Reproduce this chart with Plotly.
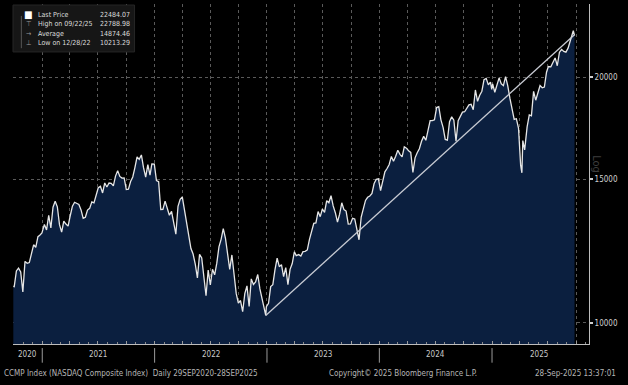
import plotly.graph_objects as go

# ---------------- data (weekly closes) ----------------
dates = [
 "2020-09-29","2020-10-02","2020-10-09","2020-10-16","2020-10-23","2020-10-30","2020-11-06","2020-11-13","2020-11-20","2020-11-27",
 "2020-12-04","2020-12-11","2020-12-18","2020-12-24","2020-12-31",
 "2021-01-08","2021-01-15","2021-01-22","2021-01-29","2021-02-05","2021-02-12","2021-02-19","2021-02-26","2021-03-05","2021-03-12",
 "2021-03-19","2021-03-26","2021-04-01","2021-04-09","2021-04-16","2021-04-23","2021-04-30","2021-05-07","2021-05-14","2021-05-21",
 "2021-05-28","2021-06-04","2021-06-11","2021-06-18","2021-06-25","2021-07-02","2021-07-09","2021-07-16","2021-07-23","2021-07-30",
 "2021-08-06","2021-08-13","2021-08-20","2021-08-27","2021-09-03","2021-09-10","2021-09-17","2021-09-24","2021-10-01","2021-10-08",
 "2021-10-15","2021-10-22","2021-10-29","2021-11-05","2021-11-12","2021-11-19","2021-11-26","2021-12-03","2021-12-10","2021-12-17",
 "2021-12-23","2021-12-31",
 "2022-01-07","2022-01-14","2022-01-21","2022-01-28","2022-02-04","2022-02-11","2022-02-18","2022-02-25","2022-03-04","2022-03-11",
 "2022-03-18","2022-03-25","2022-04-01","2022-04-08","2022-04-14","2022-04-22","2022-04-29","2022-05-06","2022-05-13","2022-05-20",
 "2022-05-27","2022-06-03","2022-06-10","2022-06-17","2022-06-24","2022-07-01","2022-07-08","2022-07-15","2022-07-22","2022-07-29",
 "2022-08-05","2022-08-12","2022-08-19","2022-08-26","2022-09-02","2022-09-09","2022-09-16","2022-09-23","2022-09-30","2022-10-07",
 "2022-10-14","2022-10-21","2022-10-28","2022-11-04","2022-11-11","2022-11-18","2022-11-25","2022-12-02","2022-12-09","2022-12-16",
 "2022-12-23","2022-12-28","2022-12-30",
 "2023-01-06","2023-01-13","2023-01-20","2023-01-27","2023-02-03","2023-02-10","2023-02-17","2023-02-24","2023-03-03","2023-03-10",
 "2023-03-17","2023-03-24","2023-03-31","2023-04-06","2023-04-14","2023-04-21","2023-04-28","2023-05-05","2023-05-12","2023-05-19",
 "2023-05-26","2023-06-02","2023-06-09","2023-06-16","2023-06-23","2023-06-30","2023-07-07","2023-07-14","2023-07-21","2023-07-28",
 "2023-08-04","2023-08-11","2023-08-18","2023-08-25","2023-09-01","2023-09-08","2023-09-15","2023-09-22","2023-09-29","2023-10-06",
 "2023-10-13","2023-10-20","2023-10-27","2023-11-03","2023-11-10","2023-11-17","2023-11-24","2023-12-01","2023-12-08","2023-12-15",
 "2023-12-22","2023-12-29",
 "2024-01-05","2024-01-12","2024-01-19","2024-01-26","2024-02-02","2024-02-09","2024-02-16","2024-02-23","2024-03-01","2024-03-08",
 "2024-03-15","2024-03-22","2024-03-28","2024-04-05","2024-04-12","2024-04-19","2024-04-26","2024-05-03","2024-05-10","2024-05-17",
 "2024-05-24","2024-05-31","2024-06-07","2024-06-14","2024-06-21","2024-06-28","2024-07-05","2024-07-12","2024-07-19","2024-07-26",
 "2024-08-02","2024-08-09","2024-08-16","2024-08-23","2024-08-30","2024-09-06","2024-09-13","2024-09-20","2024-09-27","2024-10-04",
 "2024-10-11","2024-10-18","2024-10-25","2024-11-01","2024-11-08","2024-11-15","2024-11-22","2024-11-29","2024-12-06","2024-12-13",
 "2024-12-20","2024-12-27","2024-12-31",
 "2025-01-03","2025-01-10","2025-01-17","2025-01-24","2025-01-31","2025-02-07","2025-02-14","2025-02-21","2025-02-28","2025-03-07",
 "2025-03-14","2025-03-21","2025-03-28","2025-04-04","2025-04-08","2025-04-11","2025-04-17","2025-04-25","2025-05-02","2025-05-09",
 "2025-05-16","2025-05-23","2025-05-30","2025-06-06","2025-06-13","2025-06-20","2025-06-27","2025-07-03","2025-07-11","2025-07-18",
 "2025-07-25","2025-08-01","2025-08-08","2025-08-15","2025-08-22","2025-08-29","2025-09-05","2025-09-12","2025-09-19","2025-09-22",
 "2025-09-26",
]
prices = [
 11085,11075,11580,11672,11548,10911,11895,11830,11855,12206,
 12464,12378,12755,12805,12888,
 13202,12998,13543,13070,13856,14095,13874,13192,12920,13320,
 13215,13138,13480,13900,14052,14016,13962,13752,13430,13471,
 13748,13814,14069,14030,14360,14639,14701,14427,14837,14672,
 14835,14822,14714,15129,15363,15115,15043,15047,14567,14580,
 14897,15090,15498,15971,15861,16057,15491,15085,15630,15169,
 15653,15645,
 14936,14893,13768,13770,14098,13791,13548,13694,13313,12843,
 13894,14169,14261,13711,13351,12839,12335,12145,11805,11354,
 12131,12013,11340,10798,11608,11128,11635,11452,11834,12391,
 12657,13047,12705,12142,11630,12112,11448,10868,10576,10652,
 10321,10860,11102,10475,11323,11146,11226,11462,11005,10705,
 10497,10213.29,10466,
 10569,11079,11140,11622,12007,11718,11787,11395,11689,11138,
 11631,11824,12222,12088,12124,12073,12227,12235,12285,12658,
 12976,13241,13259,13690,13492,13788,13661,14113,14032,14317,
 13909,13645,13290,13590,14031,13762,13708,13212,13219,13431,
 13407,12984,12643,13478,13798,14125,14250,14305,14404,14814,
 14992,15011,
 14524,14973,15311,15455,15629,15991,15776,15997,16275,16085,
 15973,16429,16379,16249,16175,15282,15928,16156,16341,16686,
 16921,16735,17133,17689,17689,17733,18353,18398,17727,17358,
 16776,16745,17632,17878,17714,16691,17684,17948,18119,18138,
 18343,18490,18519,18240,19287,18680,19004,19218,19860,19927,
 19573,19722,19311,
 19622,19162,19630,19955,19627,19523,20027,19524,18847,18196,
 17754,17784,17323,15588,15268,16724,16286,17383,17978,17929,
 19212,18737,19114,19530,19407,19447,20273,20601,20586,20896,
 21108,20650,21450,21623,21496,21456,21700,22141,22631,22788.98,
 22484.07,
]

trend_dates = ["2022-12-28", "2025-09-24"]
trend_values = [10213.29, 22500]

y_ticks = [10000, 15000, 20000]
y_tick_labels = ["10000", "15000", "20000"]

year_labels = ["2020", "2021", "2022", "2023", "2024", "2025"]
year_label_dates = ["2020-11-13", "2021-07-02", "2022-07-02", "2023-07-02", "2024-07-02", "2025-06-01"]
year_breaks = ["2021-01-01", "2022-01-01", "2023-01-01", "2024-01-01", "2025-01-01"]

legend_names = ["Last Price", "High on 09/22/25", "Average", "Low on 12/28/22"]
legend_values = ["22484.07", "22788.98", "14874.46", "10213.29"]
legend_symbols = ["■", "⊤", "→", "⊥"]

FONT = "DejaVu Sans Condensed, DejaVu Sans, Liberation Sans"

fig = go.Figure()
fig.add_trace(go.Scatter(
    x=dates, y=prices, mode="lines",
    line=dict(color="#e6e6e6", width=1.3),
    fill="tozeroy", fillcolor="#0b1f3f",
    hoverinfo="skip", showlegend=False,
))
fig.add_trace(go.Scatter(
    x=trend_dates, y=trend_values, mode="lines",
    line=dict(color="#c9ccd4", width=1.3),
    hoverinfo="skip", showlegend=False,
))

fig.update_layout(
    width=628, height=385,
    margin=dict(l=13, r=39, t=4, b=41, autoexpand=False),
    paper_bgcolor="#000000", plot_bgcolor="#000000",
    font=dict(family=FONT, color="#bdbdbd", size=8),
    showlegend=False, hovermode=False,
)
fig.update_xaxes(
    type="date", range=["2020-09-28", "2025-11-12"],
    showgrid=True, gridcolor="#5a5a5a", griddash="dot", gridwidth=1,
    dtick="M3", tick0="2021-01-01",
    ticks="inside", ticklen=3, tickcolor="#9a9a9a",
    showticklabels=False,
    minor=dict(dtick="M1", ticks="inside", ticklen=2, tickcolor="#8a8a8a", showgrid=False),
    showline=True, linecolor="#bdbdbd", linewidth=1,
    zeroline=False, automargin=False,
)
fig.update_yaxes(
    type="log", range=[3.9742, 4.3905], side="right",
    tickvals=y_ticks, ticktext=y_tick_labels,
    showgrid=True, gridcolor="#5a5a5a", griddash="dot", gridwidth=1,
    ticks="outside", ticklen=3, tickwidth=2, tickcolor="#cfcfcf",
    tickfont=dict(size=8, color="#cfcfcf"),
    showline=True, linecolor="#bdbdbd", linewidth=1, mirror=False,
    zeroline=False, automargin=False,
)

# year labels and separators under the axis
for lab, d in zip(year_labels, year_label_dates):
    fig.add_annotation(x=d, y=-0.032, xref="x", yref="paper", text=lab, showarrow=False,
                       font=dict(size=8, color="#c8c8c8"), xanchor="center", yanchor="middle")
for d in year_breaks:
    fig.add_shape(type="line", xref="x", yref="paper", x0=d, x1=d, y0=-0.012, y1=-0.055,
                  line=dict(color="#9a9a9a", width=1))

# footer
fig.add_annotation(x=-0.019, y=-0.088, xref="paper", yref="paper", showarrow=False,
                   text="CCMP Index (NASDAQ Composite Index)  Daily 29SEP2020-28SEP2025",
                   xanchor="left", yanchor="middle", font=dict(size=8, color="#b5b5b5"))
fig.add_annotation(x=0.545, y=-0.088, xref="paper", yref="paper", showarrow=False,
                   text="Copyright© 2025 Bloomberg Finance L.P.",
                   xanchor="left", yanchor="middle", font=dict(size=8, color="#b5b5b5"))
fig.add_annotation(x=1.051, y=-0.088, xref="paper", yref="paper", showarrow=False,
                   text="28-Sep-2025 13:37:01",
                   xanchor="right", yanchor="middle", font=dict(size=8, color="#b5b5b5"))

# rotated "Log" marker on the right
fig.add_annotation(x=1.028, y=0.53, xref="paper", yref="paper", showarrow=False,
                   text="Log", textangle=90, font=dict(size=11, color="#3e3e3e"))

# legend box
fig.add_shape(type="rect", xref="paper", yref="paper", x0=0.0, x1=0.211, y0=0.859, y1=0.997,
              fillcolor="#161616", line=dict(color="#262626", width=1), layer="above")
fig.add_shape(type="line", xref="paper", yref="paper", x0=0.0145, x1=0.0145, y0=0.87, y1=0.965,
              line=dict(color="#555555", width=1), layer="above")
row_y = [0.968, 0.941, 0.912, 0.885]
for i, (nm, val, sym) in enumerate(zip(legend_names, legend_values, legend_symbols)):
    fig.add_annotation(x=0.027, y=row_y[i], xref="paper", yref="paper", showarrow=False,
                       text=sym, xanchor="center", yanchor="middle",
                       font=dict(size=10 if i == 0 else 7, color="#ffffff" if i == 0 else "#9a9a9a"))
    fig.add_annotation(x=0.040, y=row_y[i], xref="paper", yref="paper", showarrow=False,
                       text=nm, xanchor="left", yanchor="middle",
                       font=dict(size=7, color="#dcdcdc"))
    fig.add_annotation(x=0.207, y=row_y[i], xref="paper", yref="paper", showarrow=False,
                       text=val, xanchor="right", yanchor="middle",
                       font=dict(size=7, color="#dcdcdc"))

fig.write_html("out.html", config={"displayModeBar": False},
               post_script="document.body.style.margin='0';document.body.style.overflow='hidden';")
